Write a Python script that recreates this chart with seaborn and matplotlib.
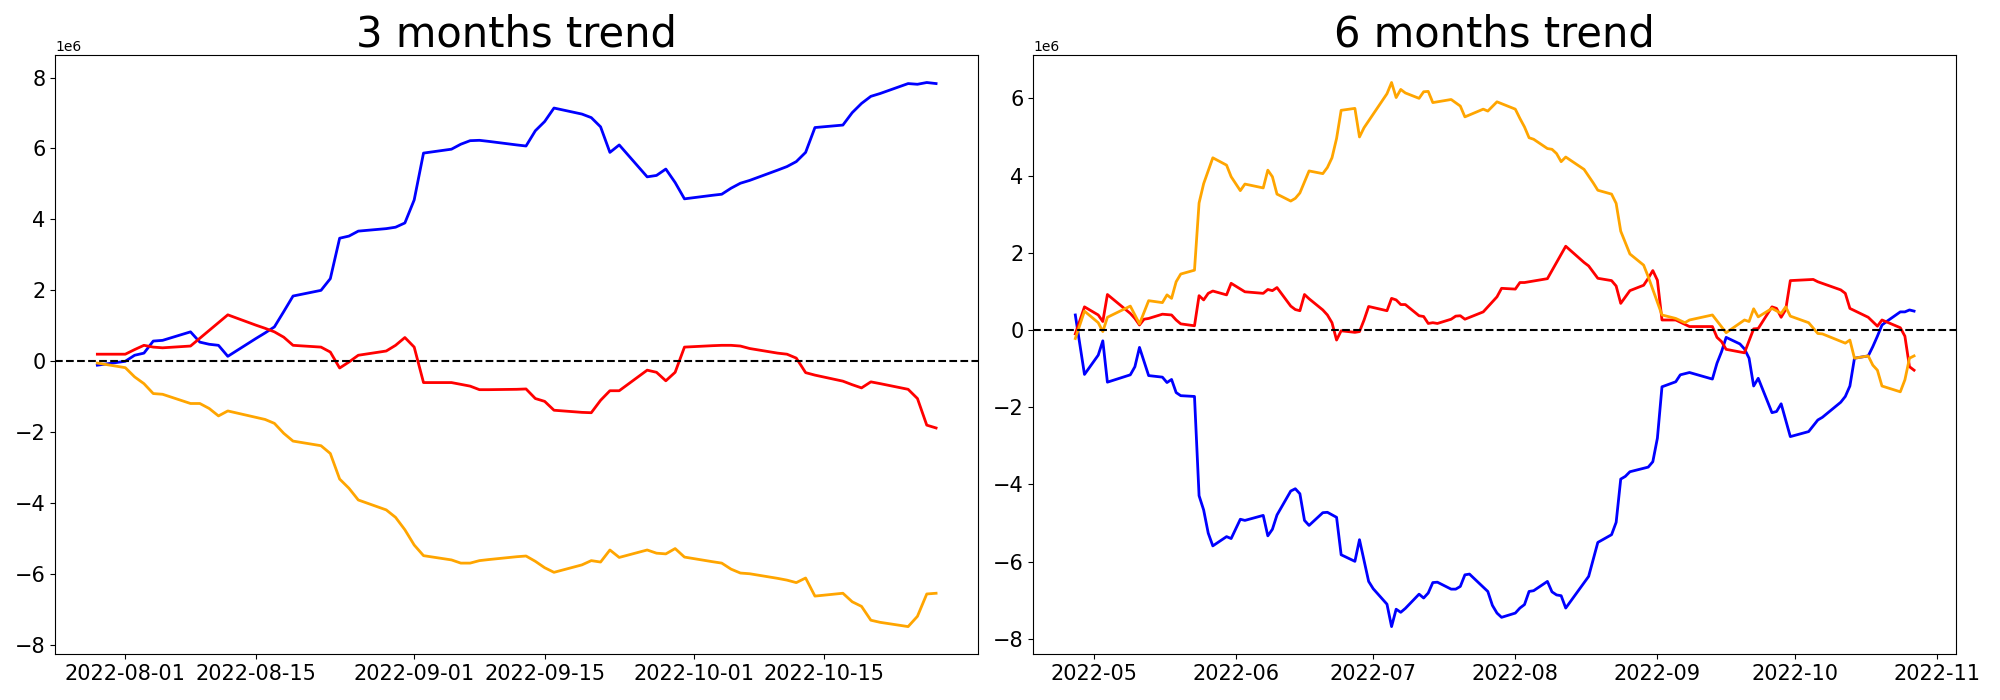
import matplotlib
matplotlib.use("Agg")
import matplotlib.pyplot as plt
import seaborn as sns
import pandas as pd

# 3 months window: one value per business day, in millions
dates_3m = pd.bdate_range("2022-07-29", "2022-10-27")
blue_3m = [-0.11, 0.00, 0.17, 0.23, 0.57, 0.59, 0.83, 0.54, 0.48, 0.45, 0.14,
           0.64, 0.80, 0.97, 1.40, 1.84, 2.00, 2.33, 3.47, 3.53, 3.67,
           3.74, 3.78, 3.90, 4.55, 5.87, 5.98, 6.12, 6.22, 6.23, 6.20,
           6.10, 6.07, 6.50, 6.76, 7.14, 6.97, 6.87, 6.61, 5.89, 6.10,
           5.20, 5.24, 5.42, 5.04, 4.58, 4.68, 4.71, 4.88, 5.02, 5.10,
           5.39, 5.49, 5.63, 5.89, 6.59, 6.66, 7.01, 7.27, 7.47, 7.55,
           7.83, 7.81, 7.86, 7.83]
red_3m = [0.20, 0.20, 0.33, 0.45, 0.40, 0.38, 0.43, 0.65, 0.87, 1.09, 1.31,
          1.02, 0.93, 0.83, 0.68, 0.45, 0.40, 0.26, -0.19, -0.02, 0.17,
          0.29, 0.45, 0.67, 0.40, -0.60, -0.60, -0.65, -0.70, -0.80, -0.80,
          -0.79, -0.78, -1.05, -1.13, -1.38, -1.44, -1.45, -1.10, -0.83, -0.83,
          -0.25, -0.31, -0.55, -0.31, 0.40, 0.44, 0.45, 0.45, 0.43, 0.36,
          0.23, 0.20, 0.09, -0.32, -0.39, -0.56, -0.66, -0.75, -0.58, -0.63,
          -0.79, -1.05, -1.80, -1.88]
orange_3m = [-0.05, -0.18, -0.44, -0.63, -0.91, -0.93, -1.19, -1.19, -1.33, -1.54, -1.40,
             -1.58, -1.64, -1.75, -2.03, -2.25, -2.38, -2.60, -3.32, -3.58, -3.91,
             -4.19, -4.40, -4.75, -5.18, -5.48, -5.60, -5.69, -5.69, -5.62, -5.59,
             -5.51, -5.49, -5.64, -5.82, -5.95, -5.74, -5.62, -5.66, -5.32, -5.53,
             -5.32, -5.41, -5.43, -5.28, -5.52, -5.65, -5.69, -5.86, -5.97, -5.99,
             -6.12, -6.17, -6.24, -6.11, -6.62, -6.54, -6.78, -6.91, -7.30, -7.36,
             -7.48, -7.19, -6.56, -6.54]

# 6 months window (2022), read where each line bends, in millions
blue_6m_dates = ["04-27", "04-29", "05-02", "05-03", "05-04", "05-09", "05-10", "05-11",
                 "05-13", "05-16", "05-17", "05-18", "05-19", "05-20", "05-23", "05-24",
                 "05-25", "05-26", "05-27", "05-30", "05-31", "06-02", "06-03", "06-07",
                 "06-08", "06-09", "06-10", "06-13", "06-14", "06-15", "06-16", "06-17",
                 "06-20", "06-21", "06-23", "06-24", "06-27", "06-28", "06-30", "07-01",
                 "07-04", "07-05", "07-06", "07-07", "07-08", "07-11", "07-12", "07-13",
                 "07-14", "07-15", "07-18", "07-19", "07-20", "07-21", "07-22", "07-26",
                 "07-27", "07-28", "07-29", "08-01", "08-02", "08-03", "08-04", "08-05",
                 "08-08", "08-09", "08-10", "08-11", "08-12", "08-17", "08-19", "08-22",
                 "08-23", "08-24", "08-25", "08-26", "08-30", "08-31", "09-01", "09-02",
                 "09-05", "09-06", "09-08", "09-13", "09-14", "09-15", "09-16", "09-19",
                 "09-20", "09-21", "09-22", "09-23", "09-26", "09-27", "09-28", "09-30",
                 "10-04", "10-06", "10-07", "10-11", "10-12", "10-13", "10-14", "10-17",
                 "10-18", "10-19", "10-20", "10-21", "10-24", "10-25", "10-26", "10-27"]
blue_6m = [0.39, -1.15, -0.65, -0.28, -1.35, -1.16, -0.95, -0.45,
           -1.18, -1.22, -1.36, -1.28, -1.62, -1.70, -1.72, -4.29,
           -4.66, -5.26, -5.59, -5.35, -5.40, -4.90, -4.93, -4.80,
           -5.33, -5.16, -4.79, -4.17, -4.11, -4.24, -4.93, -5.06,
           -4.73, -4.72, -4.85, -5.82, -5.99, -5.43, -6.51, -6.70,
           -7.10, -7.68, -7.23, -7.31, -7.21, -6.84, -6.94, -6.81,
           -6.54, -6.53, -6.71, -6.71, -6.64, -6.34, -6.32, -6.77,
           -7.13, -7.33, -7.44, -7.33, -7.20, -7.11, -6.77, -6.75,
           -6.51, -6.78, -6.86, -6.88, -7.20, -6.38, -5.50, -5.30,
           -4.98, -3.86, -3.79, -3.67, -3.55, -3.41, -2.80, -1.47,
           -1.34, -1.16, -1.10, -1.27, -0.86, -0.56, -0.19, -0.36,
           -0.49, -0.73, -1.45, -1.25, -2.14, -2.11, -1.91, -2.76,
           -2.63, -2.33, -2.26, -1.87, -1.72, -1.45, -0.73, -0.67,
           -0.43, -0.16, 0.13, 0.22, 0.47, 0.47, 0.52, 0.49]

red_6m_dates = ["04-27", "04-29", "05-02", "05-03", "05-04", "05-09", "05-10", "05-11",
                "05-12", "05-13", "05-16", "05-18", "05-19", "05-20", "05-23", "05-24",
                "05-25", "05-26", "05-27", "05-30", "05-31", "06-03", "06-07", "06-08",
                "06-09", "06-10", "06-13", "06-14", "06-15", "06-16", "06-17", "06-20",
                "06-21", "06-22", "06-23", "06-24", "06-27", "06-28", "06-29", "06-30",
                "07-04", "07-05", "07-06", "07-07", "07-08", "07-11", "07-12", "07-13",
                "07-14", "07-15", "07-18", "07-19", "07-20", "07-21", "07-25", "07-28",
                "07-29", "08-01", "08-02", "08-03", "08-05", "08-08", "08-12", "08-16",
                "08-17", "08-19", "08-22", "08-23", "08-24", "08-26", "08-29", "08-30",
                "08-31", "09-01", "09-02", "09-05", "09-08", "09-13", "09-14", "09-15",
                "09-16", "09-20", "09-22", "09-23", "09-26", "09-27", "09-28", "09-29",
                "09-30", "10-05", "10-06", "10-11", "10-12", "10-13", "10-17", "10-19",
                "10-20", "10-24", "10-25", "10-26", "10-27"]
red_6m = [-0.10, 0.60, 0.39, 0.22, 0.92, 0.43, 0.30, 0.13,
          0.28, 0.30, 0.41, 0.39, 0.26, 0.16, 0.11, 0.89,
          0.78, 0.95, 1.01, 0.91, 1.21, 0.99, 0.95, 1.05,
          1.02, 1.10, 0.62, 0.53, 0.50, 0.92, 0.81, 0.52,
          0.39, 0.19, -0.26, -0.02, -0.06, -0.04, 0.26, 0.61,
          0.50, 0.82, 0.78, 0.66, 0.66, 0.37, 0.35, 0.17,
          0.19, 0.17, 0.28, 0.36, 0.37, 0.28, 0.47, 0.86,
          1.08, 1.06, 1.23, 1.23, 1.27, 1.33, 2.17, 1.75,
          1.66, 1.34, 1.28, 1.14, 0.69, 1.02, 1.16, 1.34,
          1.54, 1.29, 0.26, 0.26, 0.09, 0.09, -0.19, -0.30,
          -0.50, -0.59, 0.03, 0.04, 0.60, 0.56, 0.33, 0.53,
          1.28, 1.31, 1.25, 1.04, 0.95, 0.56, 0.33, 0.10,
          0.26, 0.06, -0.16, -0.95, -1.04]

orange_6m_dates = ["04-27", "04-29", "05-02", "05-03", "05-04", "05-09", "05-11", "05-13",
                   "05-16", "05-17", "05-18", "05-19", "05-20", "05-23", "05-24", "05-25",
                   "05-27", "05-30", "05-31", "06-02", "06-03", "06-07", "06-08", "06-09",
                   "06-10", "06-13", "06-14", "06-15", "06-17", "06-20", "06-21", "06-22",
                   "06-23", "06-24", "06-27", "06-28", "06-29", "07-04", "07-05", "07-06",
                   "07-07", "07-08", "07-11", "07-12", "07-13", "07-14", "07-18", "07-20",
                   "07-21", "07-25", "07-26", "07-28", "08-01", "08-02", "08-03", "08-04",
                   "08-05", "08-08", "08-09", "08-10", "08-11", "08-12", "08-16", "08-18",
                   "08-19", "08-22", "08-23", "08-24", "08-26", "08-29", "08-30", "09-02",
                   "09-05", "09-07", "09-08", "09-13", "09-16", "09-20", "09-21", "09-22",
                   "09-23", "09-26", "09-28", "09-29", "09-30", "10-04", "10-06", "10-07",
                   "10-12", "10-13", "10-14", "10-17", "10-18", "10-19", "10-20", "10-24",
                   "10-25", "10-26", "10-27"]
orange_6m = [-0.22, 0.49, 0.19, -0.04, 0.33, 0.62, 0.16, 0.76,
             0.71, 0.91, 0.82, 1.25, 1.45, 1.55, 3.29, 3.79,
             4.46, 4.27, 3.97, 3.61, 3.78, 3.68, 4.14, 3.97,
             3.52, 3.34, 3.41, 3.55, 4.12, 4.05, 4.21, 4.46,
             4.96, 5.69, 5.74, 5.00, 5.24, 6.12, 6.41, 6.02,
             6.23, 6.14, 6.00, 6.17, 6.18, 5.89, 5.97, 5.80,
             5.52, 5.72, 5.67, 5.91, 5.72, 5.48, 5.26, 4.98,
             4.94, 4.70, 4.68, 4.57, 4.36, 4.48, 4.16, 3.81,
             3.62, 3.52, 3.28, 2.56, 1.97, 1.68, 1.38, 0.39,
             0.30, 0.19, 0.26, 0.39, -0.07, 0.26, 0.22, 0.55,
             0.34, 0.56, 0.43, 0.60, 0.36, 0.19, -0.09, -0.10,
             -0.34, -0.26, -0.73, -0.67, -0.91, -1.04, -1.45, -1.60,
             -1.29, -0.73, -0.67]

palette = {"blue": "blue", "red": "red", "orange": "orange"}


def to_frame(parts):
    """Stack (name, dates, values in millions) into one long DataFrame."""
    frames = []
    for name, dates, values in parts:
        frames.append(pd.DataFrame({"date": pd.to_datetime(dates),
                                    "value": [v * 1e6 for v in values],
                                    "series": name}))
    return pd.concat(frames, ignore_index=True)


df_3m = to_frame([("blue", dates_3m, blue_3m),
                  ("red", dates_3m, red_3m),
                  ("orange", dates_3m, orange_3m)])
df_6m = to_frame([("blue", ["2022-" + d for d in blue_6m_dates], blue_6m),
                  ("red", ["2022-" + d for d in red_6m_dates], red_6m),
                  ("orange", ["2022-" + d for d in orange_6m_dates], orange_6m)])

fig, axes = plt.subplots(1, 2, figsize=(20, 7), dpi=100)
fig.subplots_adjust(left=0.0277, right=0.978, bottom=0.066, top=0.921, wspace=0.06)

for ax, df, title in zip(axes, [df_3m, df_6m], ["3 months trend", "6 months trend"]):
    sns.lineplot(data=df, x="date", y="value", hue="series", palette=palette,
                 hue_order=["blue", "red", "orange"], linewidth=2, legend=False, ax=ax)
    ax.axhline(0, color="black", linestyle="--", linewidth=1.5)
    ax.set_title(title, fontsize=30)
    ax.set_xlabel("")
    ax.set_ylabel("")
    ax.tick_params(labelsize=15)

plt.savefig("out.png")
